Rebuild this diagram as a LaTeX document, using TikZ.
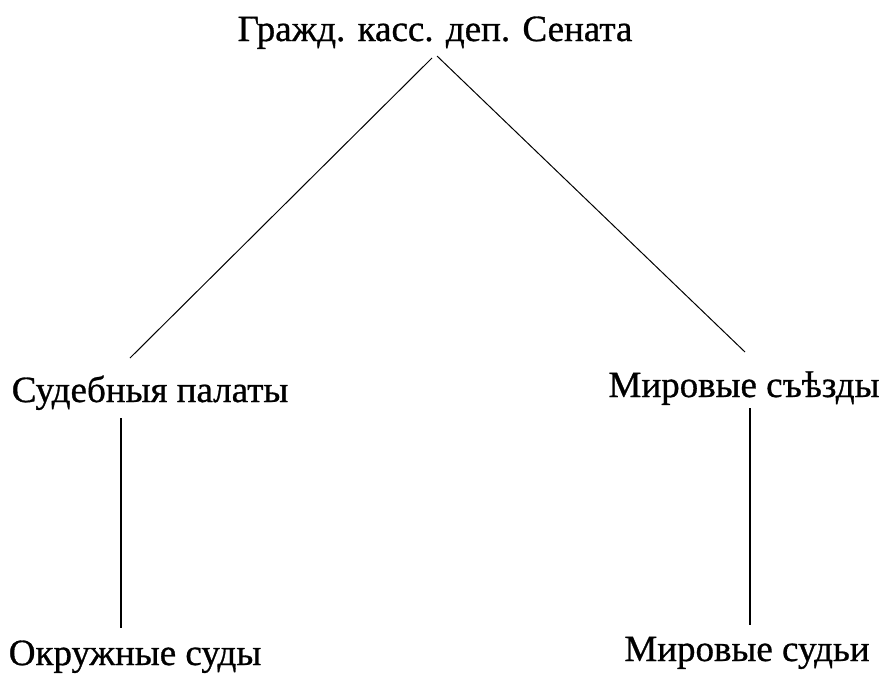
\documentclass[tikz,border=0pt]{standalone}
\usepackage{fontspec}
\setmainfont{Liberation Serif}
\newfontfamily\lblfam[FakeBold=0.8]{Liberation Serif}
\newcommand{\lblfont}{\lblfam\fontsize{37}{44}\selectfont}

\begin{document}
\begin{tikzpicture}[x=1pt, y=-1pt, color=black,
      every node/.append style={font=\lblfont, inner sep=0pt, anchor=base},
      diag/.style={line width=1pt},
      vert/.style={line width=1.6pt}]
    \useasboundingbox (0,0) rectangle (882,673);
    \node (senat) at (435,41) {Гражд. касс. деп. Сената};
    \node (palaty) at (150,402) {Судебныя палаты};
    \node (sezdy) at (744,397) {Мировые съѣзды};
    \node (okrug) at (135,665) {Окружные суды};
    \node (sudyi) at (747,661) {Мировые судьи};
    % upper level
    \draw [diag] ([shift={(-3,17)}]senat.base) -- ([shift={(-20,-44)}]palaty.base);
    \draw [diag] ([shift={(2,15)}]senat.base) -- ([shift={(1,-45)}]sezdy.base);
    % lower level
    \draw [vert] ([shift={(-29,16)}]palaty.base) -- ([shift={(-14,-37)}]okrug.base);
    \draw [vert] ([shift={(6,11)}]sezdy.base) -- ([shift={(3,-36)}]sudyi.base);
\end{tikzpicture}
\end{document}
